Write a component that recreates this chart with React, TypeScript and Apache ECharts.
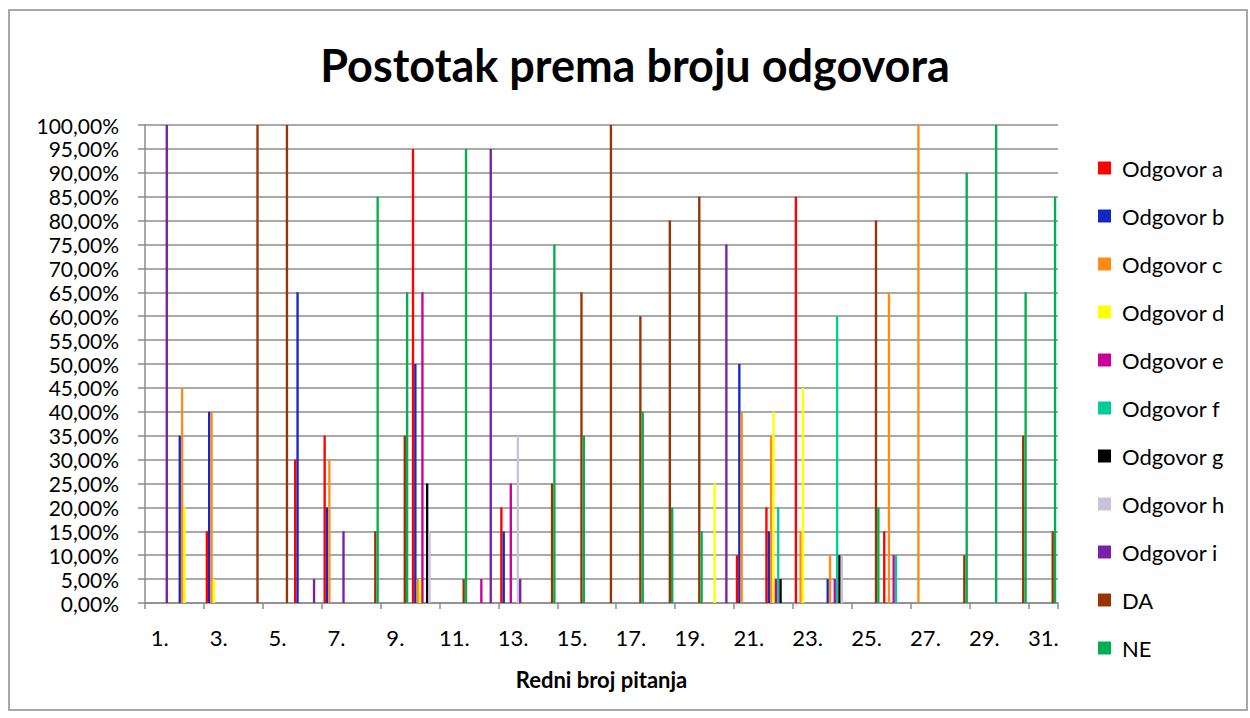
import React, { useEffect, useRef } from "react";
import * as echarts from "echarts";

const categories = Array.from({ length: 31 }, (_, i) => `${i + 1}.`);

const seriesNames = [
  "Odgovor a", "Odgovor b", "Odgovor c", "Odgovor d", "Odgovor e",
  "Odgovor f", "Odgovor g", "Odgovor h", "Odgovor i", "DA", "NE",
];

const colors = [
  "#FF0000", "#1428C8", "#FF8A14", "#FFFF00", "#CC0099",
  "#00CC99", "#000000", "#CCC0DA", "#7A1FA8", "#993300", "#00B050",
];

// values in percent, question 1..31
const odgA = [0,0,15,0,0,30,35,0,0,95,0,0,20,0,0,0,0,0,0,0,10,20,85,0,0,15,0,0,0,0,0];
const odgB = [0,35,40,0,0,65,20,0,0,50,0,0,15,0,0,0,0,0,0,0,50,15,0,5,0,0,0,0,0,0,0];
const odgC = [0,45,40,0,0,0,30,0,0,5,0,0,0,0,0,0,0,0,0,0,40,35,15,10,0,65,100,0,0,0,0];
const odgD = [0,20,5,0,0,0,0,0,0,5,0,0,0,0,0,0,0,0,0,25,0,40,45,0,0,0,0,0,0,0,0];
const odgE = [0,0,0,0,0,0,0,0,0,65,0,5,25,0,0,0,0,0,0,0,0,5,0,5,0,10,0,0,0,0,0];
const odgF = [0,0,0,0,0,0,0,0,0,0,0,0,0,0,0,0,0,0,0,0,0,20,0,60,0,10,0,0,0,0,0];
const odgG = [0,0,0,0,0,0,0,0,0,25,0,0,0,0,0,0,0,0,0,0,0,5,0,10,0,0,0,0,0,0,0];
const odgH = [0,0,0,0,0,0,0,0,0,15,0,0,35,0,0,0,0,0,0,0,0,0,0,10,0,0,0,0,0,0,0];
const odgI = [100,0,0,0,0,5,15,0,0,0,0,95,5,0,0,0,0,0,0,75,0,0,0,0,0,0,0,0,0,0,0];
const da = [0,0,0,100,100,0,0,15,35,0,5,0,0,25,65,100,60,80,85,0,0,0,0,0,80,0,0,10,0,35,15];
const ne = [0,0,0,0,0,0,0,85,65,0,95,0,0,75,35,0,40,20,15,0,0,0,0,0,20,0,0,90,100,65,85];

const allValues = [odgA, odgB, odgC, odgD, odgE, odgF, odgG, odgH, odgI, da, ne];

const FONT = "Lato, 'Open Sans', sans-serif";

export default function App() {
  const ref = useRef<HTMLDivElement>(null);

  useEffect(() => {
    if (!ref.current) return;
    const chart = echarts.init(ref.current, null, { renderer: "svg" });
    const fmt = (v: number) => (v * 100).toFixed(2).replace(".", ",") + "%";
    chart.setOption({
      animation: false,
      backgroundColor: "#ffffff",
      color: colors,
      title: {
        text: "Postotak prema broju odgovora",
        left: 630,
        textAlign: "center",
        top: 37,
        textStyle: { fontFamily: FONT, fontSize: 45, fontWeight: "bold", color: "#000" },
      },
      legend: {
        orient: "vertical",
        left: 1093,
        top: 152,
        itemWidth: 13,
        itemHeight: 13,
        itemGap: 26,
        icon: "rect",
        textStyle: { fontFamily: FONT, fontSize: 22, color: "#000", padding: [0, 0, 0, 6] },
        data: seriesNames,
      },
      grid: { left: 145, right: 192, top: 125, bottom: 115, containLabel: false },
      xAxis: {
        type: "category",
        data: categories,
        name: "Redni broj pitanja",
        nameLocation: "middle",
        nameGap: 65,
        nameTextStyle: { fontFamily: FONT, fontSize: 22, fontWeight: "bold", color: "#000" },
        axisLine: { lineStyle: { color: "#8c8c8c", width: 1.5 } },
        axisTick: { show: true, length: 6, lineStyle: { color: "#8c8c8c", width: 1.5 } },
        axisLabel: { interval: 1, margin: 23, fontFamily: FONT, fontSize: 22, color: "#000" },
        splitLine: { show: false },
      },
      yAxis: {
        type: "value",
        min: 0,
        max: 1,
        interval: 0.05,
        axisLine: { show: true, lineStyle: { color: "#8c8c8c", width: 1.5 } },
        axisTick: { show: true, length: 7, lineStyle: { color: "#8c8c8c", width: 1.5 } },
        axisLabel: {
          formatter: fmt,
          margin: 26,
          fontFamily: FONT,
          fontSize: 21,
          lineHeight: 21,
          color: "#000",
        },
        splitLine: { show: true, lineStyle: { color: "#8c8c8c", width: 1.5 } },
      },
      graphic: [
        {
          type: "rect",
          shape: { x: 9, y: 10, width: 1238, height: 700 },
          style: { fill: "none", stroke: "#8c8c8c", lineWidth: 1.5 },
          silent: true,
          z: -1,
        },
      ],
      series: seriesNames.map((name, i) => ({
        name,
        type: "bar",
        data: allValues[i].map((v) => v / 100),
        barGap: "0%",
        barCategoryGap: "12%",
        itemStyle: { color: colors[i] },
      })),
    });
    return () => chart.dispose();
  }, []);

  return (
    <div
      ref={ref}
      style={{ position: "absolute", left: 0, top: 0, width: 1250, height: 718 }}
    />
  );
}
